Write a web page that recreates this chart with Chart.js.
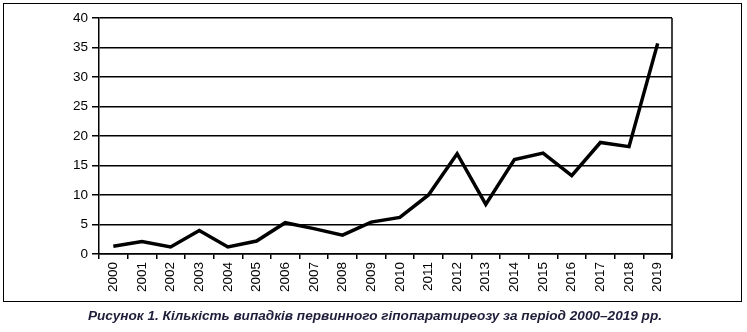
<!DOCTYPE html>
<html lang="uk">
<head>
  <meta charset="UTF-8">
  <title>Первинний гіпопаратиреоз</title>
  <script src="https://cdn.jsdelivr.net/npm/chart.js"></script>
  <style>
    body {
      margin: 0;
      background: #fff;
      font-family: "Liberation Sans", Arial, sans-serif;
    }
    .wrap {
      position: relative;
      width: 747px;
      height: 332px;
    }
    .frame {
      position: absolute;
      left: 3px;
      top: 3px;
      width: 737px;
      height: 297px;
      border: 1.5px solid #000;
    }
    canvas {
      position: absolute;
      left: 0;
      top: 0;
    }
    .caption {
      position: absolute;
      left: 0;
      width: 750px;
      top: 308px;
      text-align: center;
      font-size: 13.6px;
      font-weight: bold;
      font-style: italic;
      color: #1e1e3a;
    }
  </style>
</head>
<body>
  <div class="wrap">
    <div class="frame"></div>
    <canvas id="chart" width="747" height="332"></canvas>
    <div class="caption">Рисунок 1. Кількість випадків первинного гіпопаратиреозу за період 2000–2019 рр.</div>
  </div>

  <script>
    const years = ["2000", "2001", "2002", "2003", "2004", "2005", "2006", "2007", "2008", "2009",
                   "2010", "2011", "2012", "2013", "2014", "2015", "2016", "2017", "2018", "2019"];
    const cases = [1.3, 2.1, 1.2, 4.0, 1.2, 2.2, 5.3, 4.3, 3.2, 5.4,
                   6.2, 10.0, 17.0, 8.4, 16.0, 17.1, 13.3, 18.9, 18.2, 35.7];
    const yTicks = [0, 5, 10, 15, 20, 25, 30, 35, 40];

    // right edge of the plot box
    const boxPlugin = {
      id: "box",
      afterDraw(chart) {
        const a = chart.chartArea;
        const ctx = chart.ctx;
        ctx.save();
        ctx.strokeStyle = "#000";
        ctx.lineWidth = 1.5;
        ctx.beginPath();
        ctx.moveTo(a.right, a.top);
        ctx.lineTo(a.right, a.bottom + 4);
        ctx.stroke();
        ctx.restore();
      }
    };

    new Chart(document.getElementById("chart"), {
      type: "line",
      data: {
        labels: years,
        datasets: [{
          data: cases,
          borderColor: "#000",
          borderWidth: 3.5,
          pointRadius: 0,
          tension: 0,
          fill: false
        }]
      },
      options: {
        responsive: false,
        animation: false,
        layout: { padding: { left: 0, top: 18, right: 75, bottom: 0 } },
        plugins: {
          legend: { display: false },
          tooltip: { enabled: false }
        },
        scales: {
          x: {
            offset: true,
            afterFit: s => { s.height = 78; },
            grid: {
              offset: true,
              drawOnChartArea: false,
              tickLength: 5,
              tickColor: "#000",
              lineWidth: 1.5
            },
            border: { color: "#000", width: 1.5 },
            ticks: {
              minRotation: 90,
              maxRotation: 90,
              padding: 3,
              color: "#000",
              font: { family: "'Liberation Sans', Arial", size: 13.5 }
            }
          },
          y: {
            min: 0,
            max: 40,
            afterFit: s => { s.width = 99; },
            afterBuildTicks: s => { s.ticks = yTicks.map(v => ({ value: v })); },
            grid: {
              color: "#000",
              lineWidth: 1.5,
              tickLength: 7
            },
            border: { color: "#000", width: 1.5 },
            ticks: {
              padding: 4,
              color: "#000",
              font: { family: "'Liberation Sans', Arial", size: 13.5 }
            }
          }
        }
      },
      plugins: [boxPlugin]
    });
  </script>
</body>
</html>
